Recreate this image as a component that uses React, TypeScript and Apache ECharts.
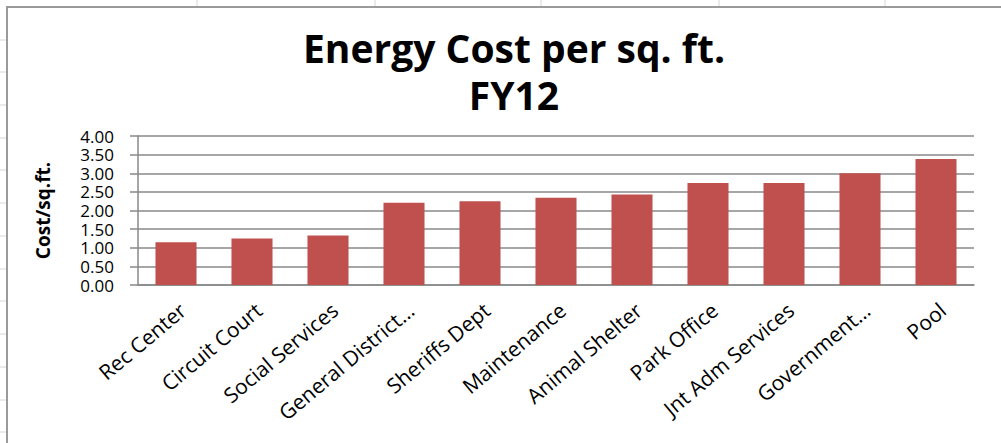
import React, { useEffect, useRef } from "react";
import * as echarts from "echarts";

const categories = [
  "Rec Center",
  "Circuit Court",
  "Social Services",
  "General District…",
  "Sheriffs Dept",
  "Maintenance",
  "Animal Shelter",
  "Park Office",
  "Jnt Adm Services",
  "Government…",
  "Pool",
];
const costPerSqFt = [1.15, 1.25, 1.33, 2.21, 2.25, 2.34, 2.43, 2.74, 2.74, 3.0, 3.38];
const titleLines = ["Energy Cost per sq. ft.", "FY12"];
const yAxisTitle = "Cost/sq.ft.";

// spreadsheet background grid positions (decoration)
const sheetColX = [197, 375, 541, 719, 885];
const sheetRowY = [40, 72, 105, 138, 170, 203, 236, 269, 301, 334, 367, 400, 432];

const FONT = "'Open Sans', 'Noto Sans', sans-serif";

export default function App() {
  const ref = useRef<HTMLDivElement>(null);

  useEffect(() => {
    if (!ref.current) return;
    const chart = echarts.init(ref.current, undefined, { renderer: "svg" });

    const sheetLines: any[] = [];
    sheetColX.forEach((x) =>
      sheetLines.push({
        type: "line",
        shape: { x1: x, y1: 0, x2: x, y2: 7 },
        style: { stroke: "#d6d6d6", lineWidth: 1 },
        silent: true,
      })
    );
    sheetRowY.forEach((y) =>
      sheetLines.push({
        type: "line",
        shape: { x1: 0, y1: y, x2: 6, y2: y },
        style: { stroke: "#d6d6d6", lineWidth: 1 },
        silent: true,
      })
    );

    chart.setOption({
      animation: false,
      backgroundColor: "#ffffff",
      textStyle: { fontFamily: FONT },
      title: {
        text: titleLines.join("\n"),
        left: 509,
        textAlign: "center",
        top: 19,
        textStyle: {
          fontFamily: FONT,
          fontWeight: "bold",
          fontSize: 39,
          lineHeight: 47,
          color: "#000000",
        },
      },
      graphic: [
        ...sheetLines,
        {
          type: "line",
          shape: { x1: 6.5, y1: 7, x2: 1001, y2: 7 },
          style: { stroke: "#9a9a9a", lineWidth: 2 },
          silent: true,
        },
        {
          type: "line",
          shape: { x1: 7, y1: 6, x2: 7, y2: 443 },
          style: { stroke: "#9a9a9a", lineWidth: 2 },
          silent: true,
        },
      ],
      grid: { left: 138, right: 27, top: 136, bottom: 158, containLabel: false },
      xAxis: {
        type: "category",
        data: categories,
        axisLine: { show: true, lineStyle: { color: "#888888", width: 1.5 } },
        axisTick: { show: false },
        axisLabel: {
          rotate: 40,
          align: "right",
          verticalAlign: "top",
          margin: 14,
          interval: 0,
          fontSize: 21,
          fontFamily: FONT,
          color: "#000000",
        },
      },
      yAxis: {
        type: "value",
        min: 0,
        max: 4,
        interval: 0.5,
        name: yAxisTitle,
        nameLocation: "middle",
        nameRotate: 90,
        nameGap: 86,
        nameTextStyle: {
          fontFamily: FONT,
          fontWeight: "bold",
          fontSize: 19,
          color: "#000000",
        },
        axisLine: { show: true, lineStyle: { color: "#888888", width: 1.5 } },
        axisTick: { show: true, inside: false, length: 8, lineStyle: { color: "#888888", width: 1.5 } },
        splitLine: { show: true, lineStyle: { color: "#888888", width: 1.5 } },
        axisLabel: {
          margin: 24,
          fontSize: 17,
          lineHeight: 17,
          showMinLabel: true,
          showMaxLabel: true,
          hideOverlap: false,
          fontFamily: FONT,
          color: "#000000",
          formatter: (v: number) => v.toFixed(2),
        },
      },
      series: [
        {
          type: "bar",
          data: costPerSqFt,
          barWidth: "54%",
          itemStyle: { color: "#C0504D" },
        },
      ],
    });

    return () => chart.dispose();
  }, []);

  return (
    <div
      ref={ref}
      style={{ position: "fixed", left: 0, top: 0, width: 1001, height: 443 }}
    />
  );
}
